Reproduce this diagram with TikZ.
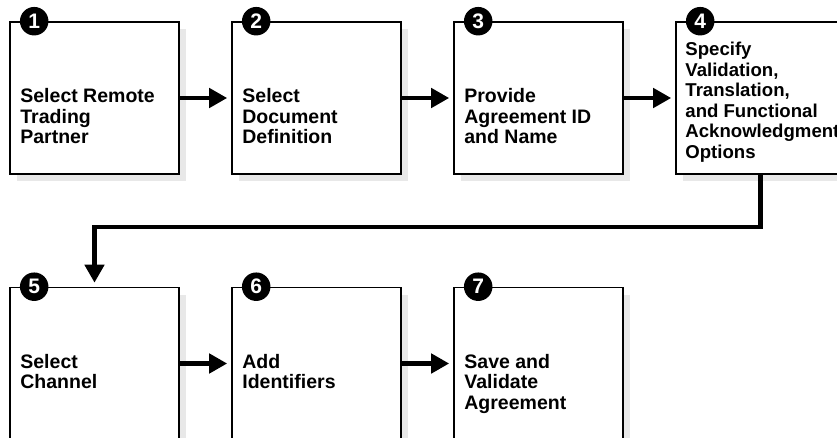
\documentclass[tikz,border=0pt]{standalone}
\usepackage{fontspec}
\setmainfont{Liberation Sans}
\usetikzlibrary{arrows.meta, positioning, shadows}

\begin{document}
\begin{tikzpicture}[x=1pt, y=1pt,
  stepbox/.style={draw, line width=1.6pt, fill=white, minimum width=169pt, minimum height=152pt, inner sep=0pt,
    general shadow={fill=black!9, shadow xshift=7pt, shadow yshift=-7pt}},
  num/.style={circle, fill=black, text=white, minimum size=28.5pt, inner sep=0pt, font=\fontsize{21}{21}\selectfont\bfseries},
  lab/.style={anchor=north west, align=left, inner sep=0pt, font=\fontsize{19.5}{20.5}\selectfont\bfseries},
  flow/.style={-{Triangle[length=18pt, width=19pt]}, line width=4.5pt, shorten >=4pt}
]
  \useasboundingbox (0,0) rectangle (837,-437);

  % top row
  \node[stepbox] (s1) at (94.5,-98) {};
  \node[stepbox] (s2) at (316.5,-98) {};
  \node[stepbox] (s3) at (538.5,-98) {};
  \node[stepbox] (s4) at (760.5,-98) {};
  % bottom row
  \node[stepbox] (s5) at (94.5,-363.5) {};
  \node[stepbox] (s6) at (316.5,-363.5) {};
  \node[stepbox] (s7) at (538.5,-363.5) {};

  \node[lab] (t1) at ([xshift=11pt, yshift=-67pt]s1.north west) {Select Remote\\Trading\\Partner};
  \node[lab] (t2) at ([xshift=11pt, yshift=-67pt]s2.north west) {Select\\Document\\Definition};
  \node[lab] (t3) at ([xshift=11pt, yshift=-67pt]s3.north west) {Provide\\Agreement ID\\and Name};
  \node[lab, font=\fontsize{18.6}{20.5}\selectfont\bfseries] (t4) at ([xshift=10pt, yshift=-21pt]s4.north west)
    {Specify\\Validation,\\Translation,\\and Functional\\Acknowledgment\\Options};
  \node[lab] (t5) at ([xshift=11pt, yshift=-67pt]s5.north west) {Select\\Channel};
  \node[lab] (t6) at ([xshift=11pt, yshift=-67pt]s6.north west) {Add\\Identifiers};
  \node[lab] (t7) at ([xshift=11pt, yshift=-67pt]s7.north west) {Save and\\Validate\\Agreement};

  % step numbers
  \foreach \i in {1,...,7}
    \node[num] (c\i) at ([xshift=25pt]s\i.north west) {\i};

  \draw[flow] (s1) -- (s2);
  \draw[flow] (s2) -- (s3);
  \draw[flow] (s3) -- (s4);
  \draw[flow] (s4.south) -- ++(0,-52) -| (s5.north);
  \draw[flow] (s5) -- (s6);
  \draw[flow] (s6) -- (s7);
\end{tikzpicture}
\end{document}
